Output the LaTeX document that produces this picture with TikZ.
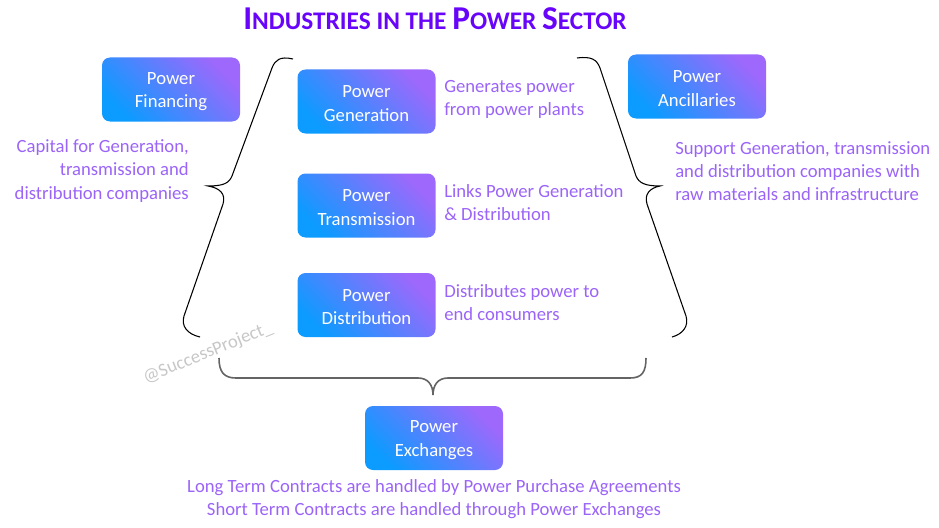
\documentclass[tikz,border=0pt]{standalone}
\usepackage{fontspec}
\setmainfont{Carlito}
\definecolor{boxpurple}{RGB}{158,104,252}
\definecolor{boxblue}{RGB}{12,155,255}
\definecolor{desccol}{RGB}{155,100,248}
\definecolor{titlecol}{RGB}{104,4,250}
\definecolor{bracegray}{RGB}{100,100,100}
\tikzset{
  box/.style={rounded corners=6pt, top color=boxpurple, bottom color=boxblue, shading angle=-45,
    text=white, align=center, minimum width=103.5pt, minimum height=48pt, inner sep=2pt,
    font=\fontsize{14}{17.3}\selectfont},
  desc/.style={text=desccol, inner sep=0pt, font=\fontsize{14}{17.3}\selectfont},
  brace/.style={draw=black, line width=0.8pt},
}
\newcommand{\bigsc}[1]{{\fontsize{25}{27}\selectfont #1}}
\newcommand{\smsc}[1]{{\fontsize{19}{21}\selectfont #1}}
\begin{document}
\begin{tikzpicture}[x=0.75pt,y=-0.75pt]
\useasboundingbox (0,0) rectangle (939,528);
% title
\node[text=titlecol, font=\bfseries, inner sep=0pt] (title) at (435,19)
  {\bigsc{I}\smsc{NDUSTRIES IN THE }\bigsc{P}\smsc{OWER }\bigsc{S}\smsc{ECTOR}};
% boxes
\node[box] (fin) at (171,89.5) {\strut Power\\Financing};
\node[box] (gen) at (366.5,101.5) {\strut Power\\Generation};
\node[box] (tra) at (366.5,205.5) {\strut Power\\Transmission};
\node[box] (dis) at (366.5,305) {\strut Power\\Distribution};
\node[box] (anc) at (697,86.5) {\strut Power\\Ancillaries};
\node[box] (exc) at (434,438) {\strut Power\\Exchanges};
% descriptions
\node[desc, anchor=west, align=left] (dgen) at (444,99) {Generates power\\from power plants};
\node[desc, anchor=west, align=left] (dtra) at (444,203) {Links Power Generation\\\& Distribution};
\node[desc, anchor=west, align=left] (ddis) at (444,303) {Distributes power to\\end consumers};
\node[desc, anchor=east, align=right] (dfin) at (189,171) {Capital for Generation,\\transmission and\\distribution companies};
\node[desc, anchor=west, align=left] (danc) at (675,171) {Support Generation, transmission\\and distribution companies with\\raw materials and infrastructure};
\node[desc, align=center] (dexc) at (434,499) {Long Term Contracts are handled by Power Purchase Agreements\\Short Term Contracts are handled through Power Exchanges};
% watermark
\node[text=black!22, rotate=22, inner sep=0pt, font=\fontsize{14}{16}\selectfont] (wm) at (208,353) {@SuccessProject\_};
% left brace
\draw[brace] (293,59) .. controls (280,56) and (275,60) .. (272,68) -- (232,176)
  .. controls (229,183) and (224,186) .. (208,186)
  .. controls (220,188) and (226,194) .. (223,204) -- (184,316)
  .. controls (181,326) and (187,334) .. (200,337);
% right brace
\draw[brace] (577,58) .. controls (592,56) and (597,60) .. (600,68) -- (636,176)
  .. controls (639,183) and (645,186) .. (660,186)
  .. controls (650,188) and (644,194) .. (647,204) -- (686,316)
  .. controls (689,326) and (683,334) .. (672,337);
% bottom brace
\draw[draw=bracegray, line width=1.2pt] (219,358) .. controls (219,372) and (224,378) .. (236,378) -- (418,378)
  .. controls (428,378) and (433,385) .. (433,395)
  .. controls (433,385) and (438,378) .. (448,378) -- (630,378)
  .. controls (642,378) and (646,372) .. (646,358);
\end{tikzpicture}
\end{document}
